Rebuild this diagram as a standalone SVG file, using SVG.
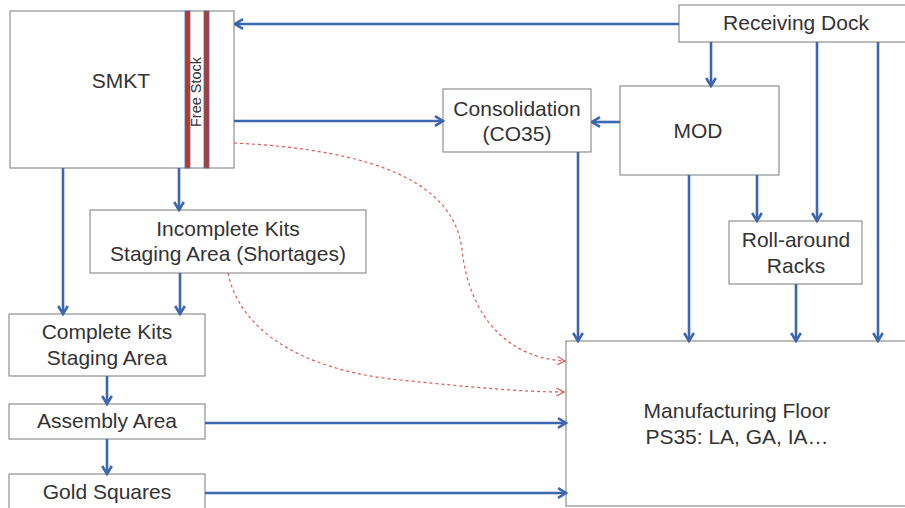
<svg xmlns="http://www.w3.org/2000/svg" width="905" height="508" viewBox="0 0 905 508">
<style>
.box{fill:#fff;stroke:#7a7a7a;stroke-width:1}
.t{font-family:"Liberation Sans",Arial,sans-serif;font-size:21px;fill:#333;text-anchor:middle}
.c{fill:none;stroke:#3d66b0;stroke-width:2.6;marker-end:url(#ab)}
.d{fill:none;stroke:#e05a55;stroke-width:1.2;stroke-dasharray:3,3;marker-end:url(#ar)}
.bar{fill:#b33b2b;stroke:#4a6fb5;stroke-width:0.8}
</style>
<defs>
<marker id="ab" viewBox="0 0 12 12" refX="10.5" refY="6" markerWidth="12" markerHeight="12" markerUnits="userSpaceOnUse" orient="auto">
<path d="M2.5,1.2 L10.5,6 L2.5,10.8" fill="none" stroke="#3d66b0" stroke-width="2.6"/>
</marker>
<marker id="ar" viewBox="0 0 10 10" refX="9" refY="5" markerWidth="10" markerHeight="10" markerUnits="userSpaceOnUse" orient="auto">
<path d="M1.5,1 L9,5 L1.5,9" fill="none" stroke="#e05a55" stroke-width="1.2"/>
</marker>
</defs>
<rect width="905" height="508" fill="#fff"/>
<g id="smkt">
<rect class="box" x="10" y="11" width="224" height="157"/>
<text class="t" x="121" y="88">SMKT</text>
<rect class="bar" x="185" y="11" width="5" height="157"/>
<rect class="bar" x="204" y="11" width="5" height="157"/>
<text class="t" transform="translate(201,92) rotate(-90)" style="font-size:14.5px">Free Stock</text>
</g>
<g id="receiving">
<rect class="box" x="679" y="5" width="228" height="37"/>
<text class="t" x="796" y="30">Receiving Dock</text>
</g>
<g id="mod">
<rect class="box" x="620" y="86" width="159" height="89"/>
<text class="t" x="698" y="138">MOD</text>
</g>
<g id="consolidation">
<rect class="box" x="443" y="89" width="148" height="63"/>
<text class="t" x="517" y="116">Consolidation</text>
<text class="t" x="517" y="141">(CO35)</text>
</g>
<g id="rollaround">
<rect class="box" x="729" y="221" width="133" height="63"/>
<text class="t" x="796" y="247">Roll-around</text>
<text class="t" x="796" y="273">Racks</text>
</g>
<g id="incomplete">
<rect class="box" x="90" y="210" width="276" height="63"/>
<text class="t" x="228" y="236">Incomplete Kits</text>
<text class="t" x="228" y="261">Staging Area (Shortages)</text>
</g>
<g id="complete">
<rect class="box" x="9" y="314" width="196" height="62"/>
<text class="t" x="107" y="339">Complete Kits</text>
<text class="t" x="107" y="365">Staging Area</text>
</g>
<g id="assembly">
<rect class="box" x="9" y="404" width="196" height="35"/>
<text class="t" x="107" y="428">Assembly Area</text>
</g>
<g id="gold">
<rect class="box" x="9" y="474" width="196" height="40"/>
<text class="t" x="107" y="499">Gold Squares</text>
</g>
<g id="manufacturing">
<rect class="box" x="566" y="341" width="341" height="165"/>
<text class="t" x="737" y="418">Manufacturing Floor</text>
<text class="t" x="737" y="444">PS35: LA, GA, IA…</text>
</g>
<g id="connectors">
<line class="c" x1="679" y1="24" x2="235" y2="24"/>
<line class="c" x1="711" y1="42" x2="711" y2="86"/>
<line class="c" x1="234" y1="121" x2="443" y2="121"/>
<line class="c" x1="620" y1="122" x2="592" y2="122"/>
<line class="c" x1="578" y1="152" x2="578" y2="341"/>
<line class="c" x1="689" y1="175" x2="689" y2="341"/>
<line class="c" x1="757" y1="175" x2="757" y2="221"/>
<line class="c" x1="817" y1="42" x2="817" y2="221"/>
<line class="c" x1="796" y1="284" x2="796" y2="341"/>
<line class="c" x1="878" y1="42" x2="878" y2="341"/>
<line class="c" x1="63" y1="168" x2="63" y2="314"/>
<line class="c" x1="179" y1="168" x2="179" y2="210"/>
<line class="c" x1="180" y1="273" x2="180" y2="314"/>
<line class="c" x1="107" y1="376" x2="107" y2="404"/>
<line class="c" x1="107" y1="439" x2="107" y2="474"/>
<line class="c" x1="205" y1="423" x2="566" y2="423"/>
<line class="c" x1="205" y1="493" x2="566" y2="493"/>
<path class="d" d="M234,143 C380,150 455,185 462,250 C470,320 510,358 565,361"/>
<path class="d" d="M228,273 C240,330 300,370 400,380 C470,387 520,392 564,392"/>
</g>
</svg>
